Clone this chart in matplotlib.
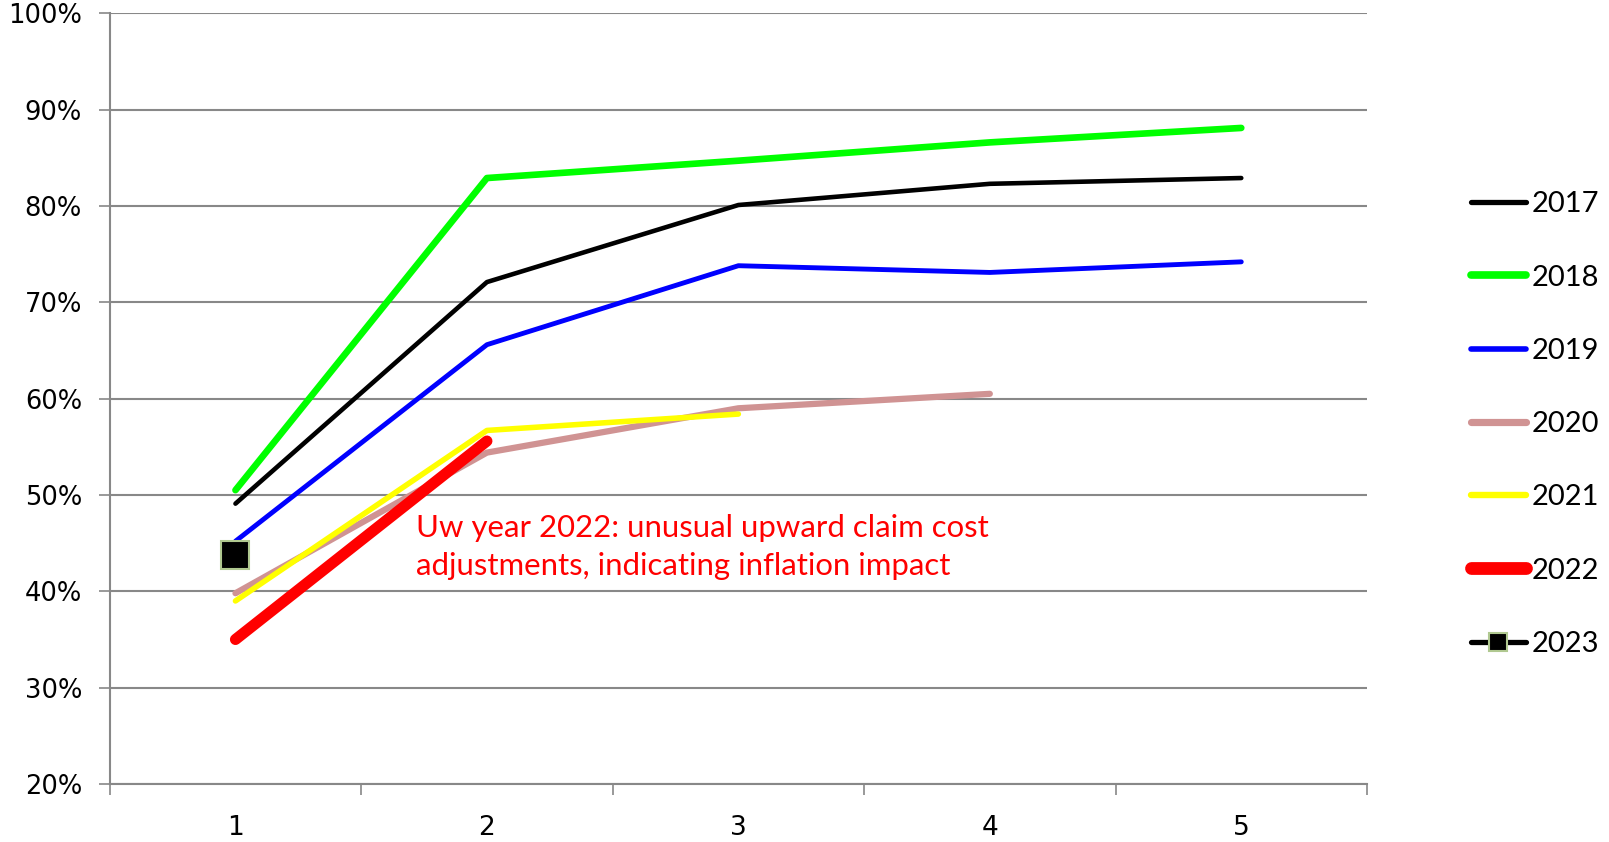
import matplotlib.pyplot as plt
from matplotlib.ticker import PercentFormatter

dev_periods = [1, 2, 3, 4, 5]

uw_2017 = [49.1, 72.1, 80.1, 82.3, 82.9]
uw_2018 = [50.5, 82.9, 84.7, 86.6, 88.1]
uw_2019 = [45.2, 65.6, 73.8, 73.1, 74.2]
uw_2020 = [39.8, 54.4, 59.0, 60.5]
uw_2021 = [39.0, 56.7, 58.4]
uw_2022 = [35.0, 55.6]
uw_2023 = [43.8]

fig = plt.figure(figsize=(16.09, 8.42), dpi=100)
ax = fig.add_axes([0.0682, 0.0689, 0.7814, 0.9153])

ax.plot(dev_periods[:len(uw_2017)], uw_2017, color='black', lw=3.3, solid_capstyle='round', label='2017')
ax.plot(dev_periods[:len(uw_2018)], uw_2018, color='#00ff00', lw=4.8, solid_capstyle='round', label='2018')
ax.plot(dev_periods[:len(uw_2019)], uw_2019, color='#0000ff', lw=3.5, solid_capstyle='round', label='2019')
ax.plot(dev_periods[:len(uw_2020)], uw_2020, color='#d09393', lw=4.5, solid_capstyle='round', label='2020')
ax.plot(dev_periods[:len(uw_2021)], uw_2021, color='#ffff00', lw=4.0, solid_capstyle='round', label='2021')
ax.plot(dev_periods[:len(uw_2022)], uw_2022, color='#ff0000', lw=8.0, solid_capstyle='round', label='2022')
ax.plot(dev_periods[:len(uw_2023)], uw_2023, color='black', lw=3.3, marker='s', ms=20,
        mfc='black', mec='#b0c890', mew=1.5, solid_capstyle='round', label='2023')

ax.text(1.716, 44.6, 'Uw year 2022: unusual upward claim cost\nadjustments, indicating inflation impact',
        color='red', fontsize=22.4, family='Lato', va='center', linespacing=1.4)

ax.set_xlim(0.5, 5.5)
ax.set_ylim(20, 100)
ax.set_yticks(range(20, 101, 10))
ax.yaxis.set_major_formatter(PercentFormatter(decimals=0))
ax.set_xticks(dev_periods)
ax.set_xticks([0.5, 1.5, 2.5, 3.5, 4.5, 5.5], minor=True)
ax.tick_params(axis='x', which='major', length=0, pad=22, labelsize=19)
ax.tick_params(axis='x', which='minor', length=8, width=1.2, color='#888888')
ax.tick_params(axis='y', length=8, width=1.2, color='#888888', labelsize=18.5, pad=12)
for lbl in ax.get_xticklabels():
    lbl.set_family('Liberation Sans Narrow')

ax.grid(axis='y', color='#888888', lw=1.5)
ax.set_axisbelow(True)
for s in ['top', 'right']:
    ax.spines[s].set_visible(False)
for s in ['left', 'bottom']:
    ax.spines[s].set_color('#888888')
    ax.spines[s].set_linewidth(1.5)

leg = fig.legend(loc='upper left', bbox_to_anchor=(0.905, 0.79), frameon=False,
                 prop={'family': 'Lato', 'size': 21}, handlelength=1.9, handletextpad=0.2,
                 labelspacing=1.62, borderpad=0)
for h in leg.legend_handles:
    if h.get_marker() == 's':
        h.set_markersize(13)
    h.set_linewidth(h.get_linewidth() * 1.15)

fig.savefig('out.png', dpi=100)
